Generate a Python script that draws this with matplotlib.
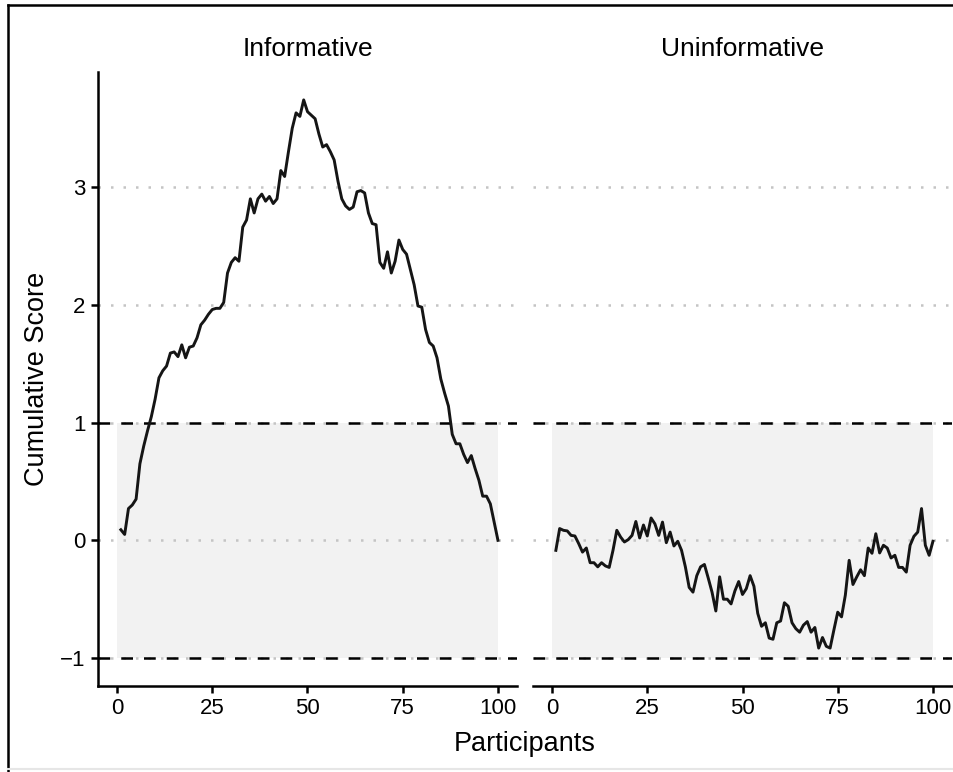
import numpy as np
import matplotlib
matplotlib.use("Agg")
import matplotlib.pyplot as plt
from matplotlib.lines import Line2D

#%%
plt.close("all")
plt.rcParams['font.family'] = ['Liberation Sans', 'DejaVu Sans']

# data
participants = np.arange(1, 101)

informative = [
    0.09, 0.05, 0.27, 0.30, 0.35, 0.65, 0.80, 0.93, 1.05, 1.20,
    1.38, 1.44, 1.48, 1.59, 1.60, 1.56, 1.66, 1.55, 1.64, 1.65,
    1.72, 1.83, 1.87, 1.92, 1.96, 1.97, 1.97, 2.02, 2.27, 2.36,
    2.40, 2.37, 2.66, 2.72, 2.90, 2.78, 2.90, 2.94, 2.88, 2.92,
    2.86, 2.90, 3.14, 3.09, 3.30, 3.50, 3.63, 3.60, 3.74, 3.64,
    3.61, 3.58, 3.45, 3.34, 3.36, 3.30, 3.23, 3.05, 2.90, 2.84,
    2.81, 2.83, 2.96, 2.97, 2.95, 2.78, 2.69, 2.68, 2.36, 2.31,
    2.45, 2.27, 2.37, 2.55, 2.47, 2.43, 2.30, 2.17, 1.99, 1.98,
    1.79, 1.68, 1.65, 1.55, 1.37, 1.25, 1.14, 0.90, 0.82, 0.82,
    0.73, 0.66, 0.72, 0.61, 0.51, 0.375, 0.375, 0.31, 0.155, 0.0,
]

uninformative = [
    -0.085, 0.10, 0.085, 0.08, 0.042, 0.037, -0.028, -0.10, -0.065, -0.19,
    -0.19, -0.225, -0.19, -0.217, -0.23, -0.085, 0.085, 0.028, -0.014, 0.006,
    0.042, 0.16, 0.02, 0.13, 0.037, 0.19, 0.14, 0.042, 0.155, -0.02,
    0.07, -0.048, -0.008, -0.085, -0.225, -0.40, -0.44, -0.30, -0.225, -0.205,
    -0.32, -0.44, -0.60, -0.31, -0.50, -0.50, -0.54, -0.43, -0.35, -0.46,
    -0.41, -0.30, -0.39, -0.62, -0.73, -0.70, -0.83, -0.84, -0.70, -0.685,
    -0.53, -0.56, -0.70, -0.75, -0.78, -0.72, -0.69, -0.78, -0.74, -0.915,
    -0.825, -0.90, -0.915, -0.76, -0.61, -0.65, -0.465, -0.17, -0.375, -0.31,
    -0.25, -0.30, -0.065, -0.11, 0.056, -0.107, -0.042, -0.065, -0.15, -0.127,
    -0.23, -0.23, -0.27, -0.042, 0.034, 0.07, 0.27, -0.042, -0.127, -0.008,
]

panel_titles = ["Informative", "Uninformative"]
x_ticks = [0, 25, 50, 75, 100]
y_ticks = [-1, 0, 1, 2, 3]
band = (-1, 1)

#%%
def draw_panel(ax, y, title, show_y=True):
    # grey band + reference lines
    ax.axhspan(band[0], band[1], xmin=5 / 110, xmax=105 / 110,
               color="#f2f2f2", lw=0, zorder=0)
    for yt in y_ticks:
        ax.axhline(yt, color="#c4c4c4", lw=1.8, ls=(0, (1, 4)), zorder=1)
    for yb in band:
        ax.axhline(yb, color="black", lw=1.8, ls=(0, (4.7, 4.4)), zorder=2)
    ax.plot(participants, y, color="#151515", lw=2.1, zorder=3)

    ax.set_xlim(-5, 105)
    ax.set_ylim(-1.237, 3.977)
    ax.set_xticks(x_ticks)
    ax.set_yticks(y_ticks)
    ax.tick_params(labelsize=16, width=1.8, length=5, colors="black", pad=4)
    for s in ["top", "right"]:
        ax.spines[s].set_visible(False)
    ax.spines["bottom"].set_linewidth(1.8)
    ax.spines["left"].set_linewidth(1.8)
    if not show_y:
        ax.spines["left"].set_visible(False)
        ax.tick_params(axis="y", left=False, labelleft=False)
    ax.set_title(title, fontsize=19, pad=11.5)


fig = plt.figure(figsize=(9.54, 7.72), dpi=100)
ax1 = fig.add_axes([98 / 954, 1 - 686 / 772, 419 / 954, 614 / 772])
ax2 = fig.add_axes([533 / 954, 1 - 686 / 772, 419 / 954, 614 / 772])

draw_panel(ax1, informative, panel_titles[0])
draw_panel(ax2, uninformative, panel_titles[1], show_y=False)

ax1.set_ylabel("Cumulative Score", fontsize=19.5, labelpad=7)
fig.text(525 / 954, 1 - 744 / 772, "Participants", fontsize=19.5,
         ha="center", va="center")

# frame around the figure (top / left black, bottom light)
fig.add_artist(Line2D([8 / 954, 8 / 954], [0, 1 - 5 / 772], color="black", lw=1.8))
fig.add_artist(Line2D([8 / 954, 1], [1 - 5 / 772, 1 - 5 / 772], color="black", lw=1.8))
fig.add_artist(Line2D([8 / 954, 1], [3 / 772, 3 / 772], color="#e6e6e6", lw=1.5))

fig.savefig("out.png", dpi=100)
